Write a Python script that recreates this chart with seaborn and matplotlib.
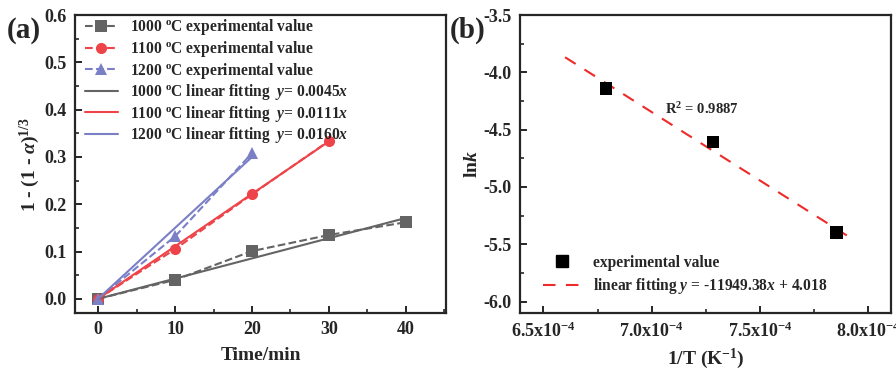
import matplotlib
matplotlib.use('Agg')
import matplotlib.pyplot as plt
import matplotlib.ticker as mticker
import seaborn as sns
import pandas as pd
import numpy as np

# data (a)
t_1000 = [0, 10, 20, 30, 40]
v_1000 = [0.0, 0.040, 0.101, 0.135, 0.162]
t_1100 = [0, 10, 20, 30]
v_1100 = [0.0, 0.105, 0.221, 0.334]
t_1200 = [0, 10, 20]
v_1200 = [0.0, 0.132, 0.308]
fit_x = {'1000': [0, 40], '1100': [0, 30], '1200': [0, 20]}
fit_y = {'1000': [0, 0.171], '1100': [0, 0.333], '1200': [0, 0.300]}
slopes = {'1000': '0.0045', '1100': '0.0111', '1200': '0.0160'}

# data (b)
inv_T = [6.789e-4, 7.283e-4, 7.855e-4]
lnk = [-4.14, -4.607, -5.40]
fit_b_x = [6.6e-4, 7.92e-4]
fit_b_y = [-3.868, -5.446]

sns.set_style('ticks')
plt.rcParams['font.family'] = ['Liberation Serif', 'DejaVu Serif']
plt.rcParams['font.weight'] = 'bold'
plt.rcParams['mathtext.fontset'] = 'custom'
plt.rcParams['mathtext.rm'] = 'Liberation Serif:bold'
plt.rcParams['mathtext.it'] = 'Liberation Serif:italic:bold'
plt.rcParams['mathtext.bf'] = 'Liberation Serif:bold'
plt.rcParams['axes.unicode_minus'] = False

colors = {'1000': '#646464', '1100': '#ee4348', '1200': '#7a7fc6'}
markers = {'1000': 's', '1100': 'o', '1200': '^'}

fig = plt.figure(figsize=(8.96, 3.71), dpi=100)
ax1 = fig.add_axes([0.0837, 0.1563, 0.414, 0.803])
ax2 = fig.add_axes([0.5804, 0.1563, 0.414, 0.803])

exp = {'1000': (t_1000, v_1000), '1100': (t_1100, v_1100), '1200': (t_1200, v_1200)}
handles = []
for k, (tx, vy) in exp.items():
    df = pd.DataFrame({'t': tx, 'v': vy})
    sns.lineplot(data=df, x='t', y='v', ax=ax1, color=colors[k], linestyle='--', lw=1.5,
                 marker=markers[k], markersize=8, markeredgewidth=0, legend=False)
    h, = ax1.plot([], [], color=colors[k], linestyle='--', lw=1.5, marker=markers[k],
                  markersize=8, markeredgewidth=0)
    handles.append((h, f'{k} $\\mathregular{{^o}}$C experimental value'))
for k in ['1000', '1100', '1200']:
    df = pd.DataFrame({'t': fit_x[k], 'v': fit_y[k]})
    sns.lineplot(data=df, x='t', y='v', ax=ax1, color=colors[k], lw=1.5, legend=False)
    h, = ax1.plot([], [], color=colors[k], lw=1.5)
    handles.append((h, f'{k} $\\mathregular{{^o}}$C linear fitting  $y$= {slopes[k]}$x$'))

ax1.set_xlim(-3, 45.2)
ax1.set_ylim(-0.03, 0.6)
ax1.set_xticks([0, 10, 20, 30, 40])
ax1.set_yticks(np.arange(0, 0.61, 0.1))
ax1.yaxis.set_major_formatter(mticker.FormatStrFormatter('%.1f'))
ax1.xaxis.set_minor_locator(mticker.MultipleLocator(5))
ax1.yaxis.set_minor_locator(mticker.MultipleLocator(0.05))
ax1.set_xlabel('Time/min', fontsize=14, fontweight='bold', labelpad=6)
ax1.set_ylabel(r'1 - (1 - $\mathit{\alpha}$)$^{1/3}$', fontsize=14, fontweight='bold', labelpad=2)
ax1.legend([h for h, _ in handles], [l for _, l in handles], loc='upper left', frameon=False,
           fontsize=11.2, handlelength=2.1, borderaxespad=0.0, labelspacing=0.1,
           bbox_to_anchor=(0.01, 1.013), handletextpad=0.8)

# (b)
dfb = pd.DataFrame({'x': inv_T, 'y': lnk})
sns.scatterplot(data=dfb, x='x', y='y', ax=ax2, marker='s', s=85, color='black',
                edgecolor='none', legend=False, zorder=3)
dff = pd.DataFrame({'x': fit_b_x, 'y': fit_b_y})
sns.lineplot(data=dff, x='x', y='y', ax=ax2, color='#ee2a2a', lw=1.5, linestyle=(0, (6, 5)),
             legend=False)
hb1, = ax2.plot([], [], 's', color='black', markersize=9, linestyle='none')
hb2, = ax2.plot([], [], color='#ee2a2a', lw=1.5, linestyle=(0, (6, 5)))
ax2.legend([hb1, hb2], ['experimental value', r'linear fitting $y$ = -11949.38$x$ + 4.018'],
           loc='lower left', frameon=False, fontsize=11.2, handlelength=2.4,
           bbox_to_anchor=(0.025, 0.01), handletextpad=0.8, labelspacing=0.35)
ax2.text(7.23e-4, -4.32, r'R$^2$ = 0.9887', fontsize=10.5, fontweight='bold', ha='center', va='center')

ax2.set_xlim(6.392e-4, 8.105e-4)
ax2.set_ylim(-6.1, -3.5)
ax2.set_xticks([6.5e-4, 7.0e-4, 7.5e-4, 8.0e-4])
ax2.set_xticklabels([r'6.5x10$^{-4}$', r'7.0x10$^{-4}$', r'7.5x10$^{-4}$', r'8.0x10$^{-4}$'])
ax2.set_yticks(np.arange(-6.0, -3.49, 0.5))
ax2.yaxis.set_major_formatter(mticker.FormatStrFormatter('%.1f'))
ax2.xaxis.set_minor_locator(mticker.MultipleLocator(0.25e-4))
ax2.yaxis.set_minor_locator(mticker.MultipleLocator(0.25))
ax2.set_xlabel(r'1/T (K$^{-1}$)', fontsize=14, fontweight='bold', labelpad=4)
ax2.set_ylabel(r'ln$k$', fontsize=14, fontweight='bold', labelpad=2)

for ax in (ax1, ax2):
    for s in ax.spines.values():
        s.set_linewidth(1.6)
        s.set_visible(True)
    ax.tick_params(which='major', direction='in', length=5, width=1.4, labelsize=13,
                   top=False, right=False, pad=6)
    ax.tick_params(which='minor', direction='in', length=3, width=1.2, top=False, right=False)
    plt.setp(ax.get_xticklabels(), fontweight='bold')
    plt.setp(ax.get_yticklabels(), fontweight='bold')

fig.text(0.008, 0.918, '(a)', fontsize=21, fontweight='bold', va='center')
fig.text(0.502, 0.918, '(b)', fontsize=21, fontweight='bold', va='center')

fig.savefig('out.png', dpi=100)
